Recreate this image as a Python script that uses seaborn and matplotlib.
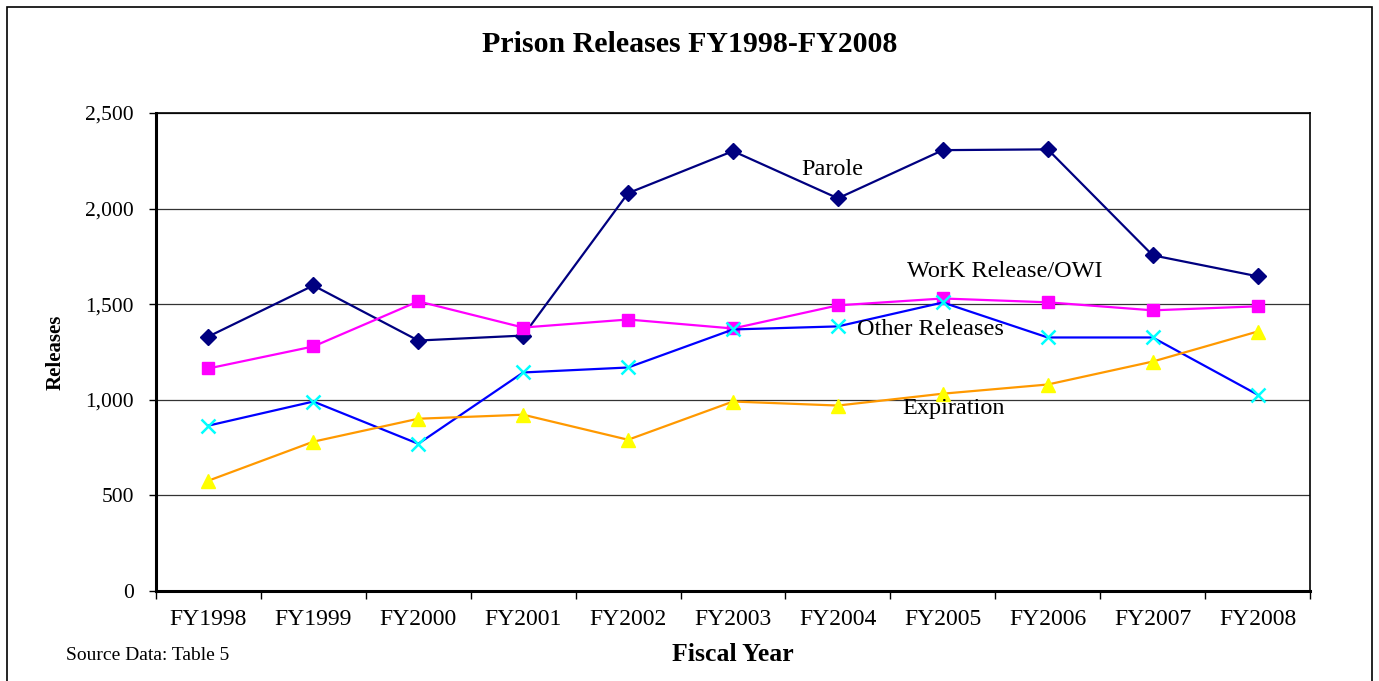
import matplotlib
matplotlib.use("Agg")
import matplotlib.pyplot as plt
import numpy as np
import pandas as pd
import seaborn as sns
from matplotlib.patches import Rectangle

years = ["FY1998", "FY1999", "FY2000", "FY2001", "FY2002", "FY2003",
         "FY2004", "FY2005", "FY2006", "FY2007", "FY2008"]
parole = [1331, 1598, 1310, 1336, 2081, 2301, 2054, 2306, 2310, 1756, 1646]
work_release = [1164, 1279, 1515, 1378, 1420, 1373, 1494, 1530, 1510, 1468, 1489]
other_releases = [865, 991, 770, 1143, 1169, 1368, 1384, 1509, 1326, 1326, 1027]
expiration = [577, 781, 901, 922, 791, 991, 970, 1032, 1080, 1200, 1357]

series_names = ["Parole", "WorK Release/OWI", "Other Releases", "Expiration"]
y_ticks = [0, 500, 1000, 1500, 2000, 2500]

sns.set_theme(style="white")
plt.rcParams["font.family"] = ["Liberation Serif", "DejaVu Serif"]
plt.rcParams.update({"text.color": "black", "axes.labelcolor": "black",
                     "xtick.color": "black", "ytick.color": "black"})

fig = plt.figure(figsize=(13.79, 6.81), dpi=100)
ax = fig.add_axes([0.1131, 0.1322, 0.8369, 0.7018])

x_idx = np.arange(len(years))

styles = [
    # line colour, marker, face, edge, size
    ("#000080", "D", "#000080", "#000080", 8),
    ("#FF00FF", "s", "#FF00FF", "#FF00FF", 9),
    ("#0000FF", "x", "#00FFFF", "#00FFFF", 10),
    ("#FF9900", "^", "#FFFF00", "#FFFF00", 10),
]
values = [parole, work_release, other_releases, expiration]

for vals, (lc, mk, fc, ec, ms) in zip(values, styles):
    sns.lineplot(x=x_idx, y=vals, ax=ax, color=lc, linewidth=1.6,
                 marker=mk, markersize=ms, markerfacecolor=fc,
                 markeredgecolor=ec, markeredgewidth=1.8 if mk == "x" else 1,
                 zorder=3)

ax.set_xlim(-0.5, len(years) - 0.5)
ax.set_ylim(0, 2500)
ax.set_yticks(y_ticks)
ax.set_yticklabels([f"{v:,}" for v in y_ticks], fontsize=15.5)
ax.set_xticks(x_idx)
ax.set_xticklabels(years, fontsize=17)
ax.set_xticks(np.arange(-0.5, len(years), 1), minor=True)
ax.tick_params(axis="x", which="major", length=0, pad=13)
ax.tick_params(axis="x", which="minor", length=6, width=1, color="black",
               direction="out", bottom=True)
ax.tick_params(axis="y", length=5, width=1, color="black", direction="out",
               left=True, pad=11)

ax.yaxis.grid(True, color="#333333", linewidth=0.9)
ax.set_axisbelow(True)
for side in ["top", "right"]:
    ax.spines[side].set_color("black")
    ax.spines[side].set_linewidth(1.2)
for side in ["left", "bottom"]:
    ax.spines[side].set_color("black")
    ax.spines[side].set_linewidth(2.2)

ax.set_xlabel("Fiscal Year", fontsize=18.5, fontweight="bold", labelpad=9)
ax.set_ylabel("Releases", fontsize=15, fontweight="bold", labelpad=14)

# series labels inside the plot
label_pos = [(5.95, 2207), (7.59, 1672), (6.88, 1368), (7.10, 954)]
for name, (lx, ly) in zip(series_names, label_pos):
    ax.text(lx, ly, name, fontsize=17.5, ha="center", va="center", color="black")

fig.text(0.5, 0.934, "Prison Releases FY1998-FY2008", ha="center",
         va="center", fontsize=21.5, fontweight="bold")
fig.text(0.048, 0.038, "Source Data: Table 5", ha="left", va="center",
         fontsize=14)

fig.patches.append(Rectangle((0.005, -0.01), 0.99, 1.0, transform=fig.transFigure,
                             fill=False, edgecolor="black", linewidth=1.2))

fig.savefig("out.png", dpi=100)
